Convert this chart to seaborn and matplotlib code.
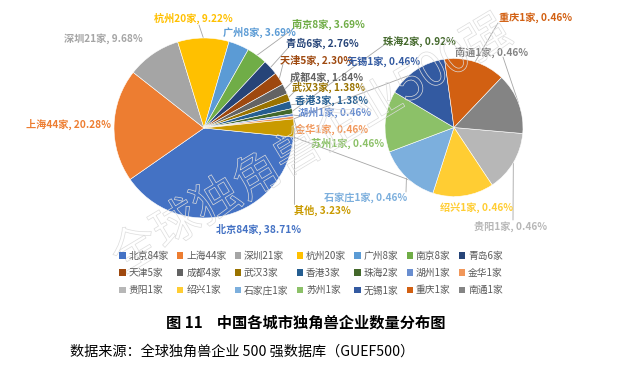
import numpy as np
import matplotlib
matplotlib.use("Agg")
import matplotlib.pyplot as plt
import matplotlib.patheffects as pe
from matplotlib.patches import Patch
import seaborn as sns

sns.set_theme(style="white")
plt.rcParams["font.family"] = ["Noto Sans CJK SC", "DejaVu Sans"]

# ---------------------------------------------------------
# data
# ---------------------------------------------------------
main_cities = ["北京", "上海", "深圳", "杭州", "广州", "南京", "青岛", "天津",
               "成都", "武汉", "香港", "珠海", "湖州", "金华"]
main_counts = [84, 44, 21, 20, 8, 8, 6, 5, 4, 3, 3, 2, 1, 1]
main_colors = ["#4472C4", "#ED7D31", "#A5A5A5", "#FFC000", "#5B9BD5", "#70AD47",
               "#264478", "#9E480E", "#636363", "#997300", "#255E91", "#43682B",
               "#698ED0", "#F1975A"]

sub_cities = ["贵阳", "绍兴", "石家庄", "苏州", "无锡", "重庆", "南通"]
sub_counts = [1, 1, 1, 1, 1, 1, 1]
sub_colors = ["#B7B7B7", "#FFCD33", "#7CAFDD", "#8CC168", "#335AA1", "#D26012", "#848484"]

other_name = "其他"
other_color = "#C99A00"

title = "图 11    中国各城市独角兽企业数量分布图"
source = "数据来源：全球独角兽企业 500 强数据库（GUEF500）"
watermark = "全球独角兽企业500强"

# label layout (pixel centre, y measured from top)
label_pos = {"北京": (259, 229), "上海": (69, 124), "深圳": (103, 39), "杭州": (193, 18),
             "广州": (259, 32), "南京": (328, 24), "青岛": (322, 43), "天津": (317, 60),
             "成都": (327, 77), "武汉": (329, 87), "香港": (332, 100), "珠海": (419, 41),
             "湖州": (335, 112), "金华": (332, 129), "其他": (322, 210),
             "贵阳": (511, 226), "绍兴": (477, 208), "石家庄": (366, 198), "苏州": (348, 143),
             "无锡": (384, 62), "重庆": (536, 18), "南通": (492, 52)}
leader_from = {"杭州": (199, 25), "南京": (293, 29), "青岛": (288, 48), "天津": (283, 64),
               "成都": (293, 81), "武汉": (295, 91), "香港": (298, 104), "湖州": (301, 116),
               "金华": (298, 133), "珠海": (384, 45), "其他": (294, 204),
               "重庆": (498, 23), "南通": (503, 57), "贵阳": (513, 220), "石家庄": (406, 192)}

H = 372
def px(x, y):
    return x, H - y

total = sum(main_counts) + sum(sub_counts)
other_count = sum(sub_counts)

fig = plt.figure(figsize=(6.22, 3.72), dpi=100)
fig.patch.set_facecolor("white")
ax = fig.add_axes([0, 0, 1, 1])

# ---------------------------------------------------------
# pies
# ---------------------------------------------------------
c1, r1 = px(204, 128), 90
c2, r2 = px(454, 127.5), 69
wp = dict(edgecolor="white", linewidth=0.4)

w_main, _ = ax.pie(main_counts + [other_count], colors=main_colors + [other_color],
                   center=c1, radius=r1, counterclock=False,
                   startangle=-other_count / total * 180, wedgeprops=wp)
w_sub, _ = ax.pie(sub_counts, colors=sub_colors, center=c2, radius=r2,
                  counterclock=False, startangle=-5, wedgeprops=wp)

line_kw = dict(color="#A6A6A6", lw=0.6, zorder=0)

# connectors from "other" slice to secondary pie
wo = w_main[-1]
for th, sign in [(wo.theta2, 1), (wo.theta1, -1)]:
    a = np.deg2rad(th)
    ax.plot([c1[0] + r1 * np.cos(a), c2[0]], [c1[1] + r1 * np.sin(a), c2[1] + sign * r2], **line_kw)

def mid_point(w, c, r):
    a = np.deg2rad((w.theta1 + w.theta2) / 2)
    return c[0] + r * np.cos(a), c[1] + r * np.sin(a)

entries = []
for name, n, w, col in zip(main_cities, main_counts, w_main[:-1], main_colors):
    entries.append((name, f"{name}{n}家, {n / total * 100:.2f}%", col, mid_point(w, c1, r1)))
entries.append((other_name, f"{other_name}, {other_count / total * 100:.2f}%", other_color,
                mid_point(wo, c1, r1)))
for name, n, w, col in zip(sub_cities, sub_counts, w_sub, sub_colors):
    entries.append((name, f"{name}{n}家, {n / total * 100:.2f}%", col, mid_point(w, c2, r2)))

for name, txt, col, anchor in entries:
    ax.text(*px(*label_pos[name]), txt, color=col, fontsize=7.3, fontweight="bold",
            ha="center", va="center", zorder=5)
    if name in leader_from:
        lx, ly = px(*leader_from[name])
        ax.plot([lx, anchor[0]], [ly, anchor[1]], **line_kw)

# faint watermark
ax.text(*px(312, 145), watermark, fontsize=34, rotation=31, ha="center", va="center",
        color="none", zorder=6,
        path_effects=[pe.Stroke(linewidth=0.5, foreground="#DCDCDC")])

ax.set_xlim(0, 622)
ax.set_ylim(0, 372)
ax.set_aspect("equal")
ax.axis("off")

# ---------------------------------------------------------
# legend (row-major like the original)
# ---------------------------------------------------------
names = main_cities + sub_cities
counts = main_counts + sub_counts
colors = main_colors + sub_colors
items = [(Patch(facecolor=c, edgecolor="none"), f"{nm}{n}家") for nm, n, c in zip(names, counts, colors)]
ncol = 7
nrow = len(items) // ncol
ordered = [items[r * ncol + c] for c in range(ncol) for r in range(nrow)]
leg = fig.legend([h for h, _ in ordered], [l for _, l in ordered], ncol=ncol, loc="center",
                 bbox_to_anchor=(311 / 622, 1 - 273 / 372), frameon=False, fontsize=7,
                 handlelength=0.65, handleheight=0.65, handletextpad=0.3,
                 columnspacing=0.85, labelspacing=0.75)
for t in leg.get_texts():
    t.set_color("#595959")

fig.text(306 / 622, 1 - 323 / 372, title, ha="center", va="center", fontsize=11,
         fontweight="bold", color="black")
fig.text(70 / 622, 1 - 352 / 372, source, ha="left", va="center", fontsize=10.2, color="black")

fig.savefig("out.png", dpi=100, facecolor="white")
